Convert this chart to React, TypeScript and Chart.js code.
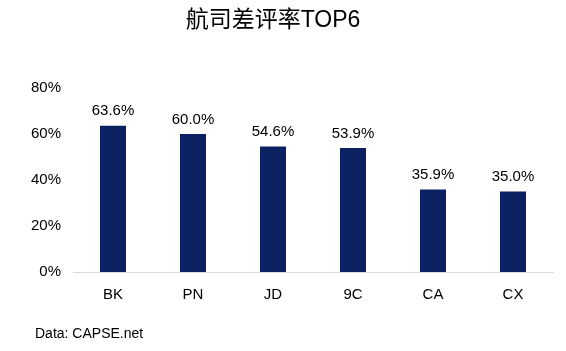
import React, { useEffect, useRef } from "react";
import { Chart, registerables } from "chart.js";

Chart.register(...registerables);

const categories = ["BK", "PN", "JD", "9C", "CA", "CX"];
const values = [63.6, 60.0, 54.6, 53.9, 35.9, 35.0];
const yTicks = [0, 20, 40, 60, 80];
const titleText = "航司差评率TOP6";
const sourceText = "Data: CAPSE.net";

const FONT = "'Liberation Sans', Arial, 'Noto Sans CJK SC', sans-serif";

export default function App() {
  const ref = useRef<HTMLCanvasElement>(null);
  useEffect(() => {
    document.body.style.margin = "0";
    const overlay = {
      id: "overlay",
      afterDraw(chart: any) {
        const ctx = chart.ctx;
        ctx.save();
        ctx.fillStyle = "#000";
        ctx.font = `23px ${FONT}`;
        ctx.textAlign = "center";
        ctx.textBaseline = "middle";
        ctx.fillText(titleText, 273, 21);
        ctx.font = `14px ${FONT}`;
        ctx.textAlign = "left";
        ctx.fillText(sourceText, 35, 334);
        const meta = chart.getDatasetMeta(0);
        ctx.font = `15px ${FONT}`;
        ctx.textAlign = "center";
        ctx.textBaseline = "bottom";
        meta.data.forEach((bar: any, i: number) => {
          ctx.fillText(values[i].toFixed(1) + "%", bar.x, bar.y - 7);
        });
        ctx.restore();
      },
    };
    const chart = new Chart(ref.current!, {
      type: "bar",
      data: {
        labels: categories,
        datasets: [
          {
            data: values,
            backgroundColor: "#0c2161",
            categoryPercentage: 1,
            barPercentage: 0.325,
          },
        ],
      },
      options: {
        animation: false,
        responsive: false,
        layout: { padding: { top: 88, right: 13, left: 0, bottom: 0 } },
        plugins: { legend: { display: false }, tooltip: { enabled: false } },
        scales: {
          x: {
            grid: { display: false, drawTicks: false },
            border: { display: true, color: "#d9d9d9", width: 1 },
            ticks: { color: "#000", font: { family: FONT, size: 15 }, padding: 14 },
            afterFit: (axis: any) => {
              axis.height = 79;
            },
          },
          y: {
            min: 0,
            max: 80,
            afterBuildTicks: (axis: any) => {
              axis.ticks = yTicks.map((v) => ({ value: v }));
            },
            grid: { display: false, drawTicks: false },
            border: { display: false },
            ticks: {
              color: "#000",
              font: { family: FONT, size: 15 },
              padding: 12,
              callback: (v: any) => v + "%",
            },
            afterFit: (axis: any) => {
              axis.width = 73;
            },
          },
        },
      },
      plugins: [overlay],
    });
    return () => chart.destroy();
  }, []);
  return (
    <div style={{ width: 566, height: 351, background: "#fff" }}>
      <canvas ref={ref} width={566} height={351} />
    </div>
  );
}
